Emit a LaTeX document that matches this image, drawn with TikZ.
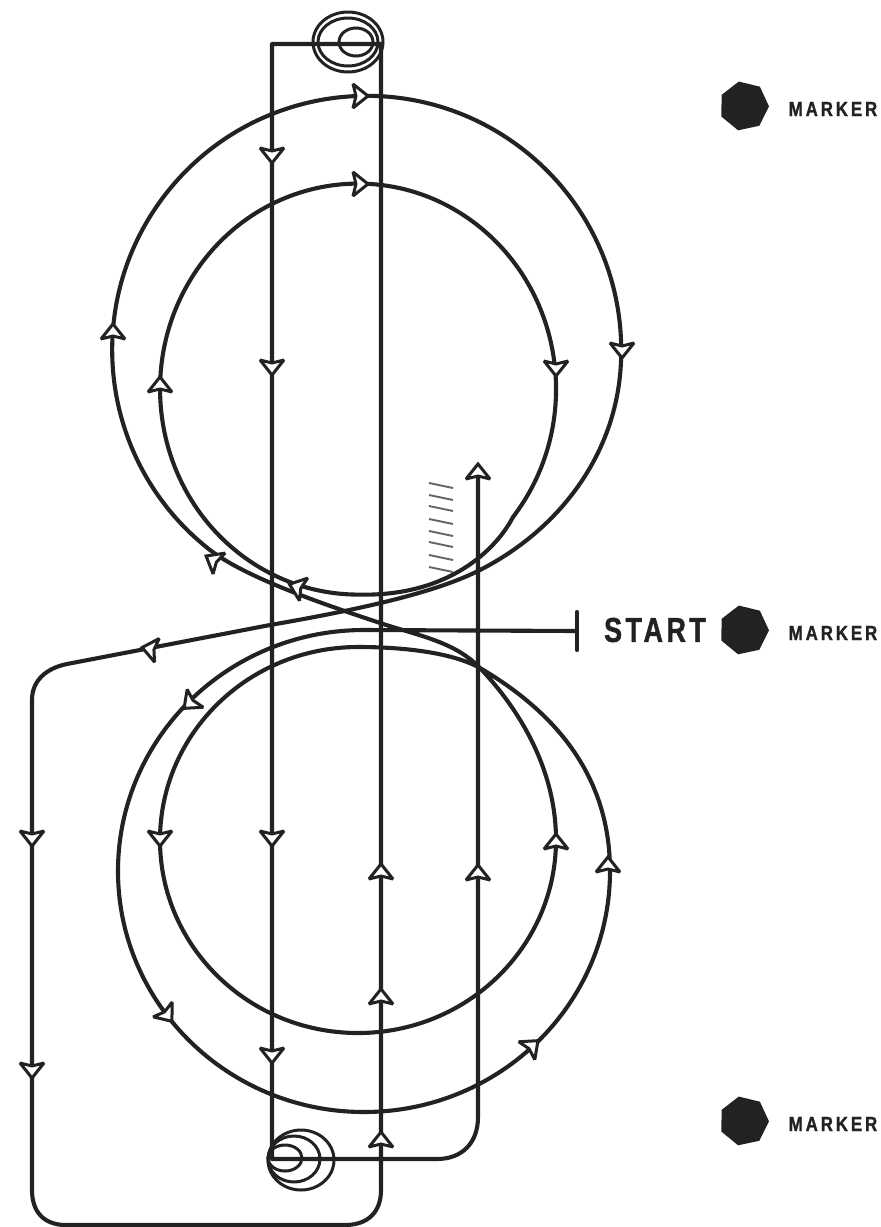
\documentclass[tikz,border=0pt]{standalone}
\usepackage{fontspec}
\usetikzlibrary{shapes.geometric}
\newfontfamily\startfont[LetterSpace=10,FakeStretch=0.78,FakeBold=1.2]{Liberation Sans Bold}
\newfontfamily\markfont[LetterSpace=14,FakeStretch=0.82,FakeBold=1.2]{Liberation Sans Bold}
\definecolor{ink}{HTML}{222222}
\tikzset{
  x=0.5pt,y=-0.5pt,
  track/.style={draw=ink,line width=2.05pt,line cap=round,line join=round},
  thin ring/.style={draw=ink,line width=1.5pt},
  hatchline/.style={draw=ink!70,line width=0.95pt},
  marker dot/.style={regular polygon,regular polygon sides=7,fill=ink,draw=none,minimum size=25pt,inner sep=0pt},
  startlabel/.style={text=ink,font=\startfont\fontsize{17.3}{19}\selectfont,inner sep=0pt},
  markerlabel/.style={text=ink,font=\markfont\fontsize{10.3}{12}\selectfont,inner sep=0pt},
  barb/.pic={\draw[draw=ink,fill=white,line width=1.5pt,line join=miter,miter limit=3] (8,0)--(-7,12)--(-4,0)--(-7,-12)--cycle;}
}
\begin{document}
\begin{tikzpicture}
\useasboundingbox (0,0) rectangle (880,1227);
% upper inner loop
\draw[track] (513,517) arc[start angle=38.5,end angle=-270,x radius=198,y radius=205.5]
  .. controls (450,597) and (497,548) .. (513,517);
% upper outer loop with tail
\draw[track] (210,550) arc[start angle=128,end angle=360,x radius=254.5,y radius=254]
  .. controls (622,450) and (560,530) .. (478,571)
  .. controls (430,595) and (345,612) .. (270,625)
  -- (67,664) .. controls (47,668) and (32,680) .. (32,700) -- (32,1190)
  .. controls (32,1212) and (44,1225) .. (66,1225) -- (345,1225)
  .. controls (368,1225) and (381,1212) .. (381,1190) -- (381,44) -- (272,44) -- (272,1159)
  -- (437,1159) .. controls (462,1159) and (478,1143) .. (478,1117) -- (478,470);
% lower outer loop, from the start bar
\coordinate (startbar) at (577,631);
\draw[track] (577,612) -- (577,650);
\draw[track] (startbar) -- (364,630) arc[start angle=-90,end angle=-360,x radius=246,y radius=241]
  .. controls (610,780) and (560,715) .. (480,668)
  .. controls (455,654) and (410,647) .. (358,647)
  arc[start angle=-90,end angle=-360,x radius=198,y radius=193]
  .. controls (556,770) and (520,710) .. (480,668)
  .. controls (455,642) and (420,636) .. (380,623)
  .. controls (345,611) and (250,581) .. (210,550);
% rings
\draw[thin ring] (348,42) ellipse[x radius=35,y radius=30];
\draw[thin ring] (348,42) ellipse[x radius=30,y radius=24];
\draw[thin ring] (356,42) ellipse[x radius=17,y radius=14];
\draw[thin ring] (301,1160) ellipse[x radius=33,y radius=30];
\draw[thin ring] (294,1159) ellipse[x radius=26,y radius=23];
\draw[thin ring] (285,1158) ellipse[x radius=17,y radius=13];
% hatching
\foreach \a/\b in {483/488,495/500,506/511,519/524,531/536,542/547,555/560,567/572}
  \draw[hatchline] (429,\a) -- (453,\b);
% arrowheads
\foreach \p/\d in {272/155,272/367,272/838,272/1055,32/838,32/1070,160/838}
  \pic[rotate=-90] at (\p,\d) {barb};
\foreach \p/\d in {381/872,381/997,381/1140,478/873,478/472,556/842,608/865,113/332,160/385}
  \pic[rotate=90] at (\p,\d) {barb};
\pic[rotate=0] at (360,96) {barb};
\pic[rotate=0] at (360,184) {barb};
\pic[rotate=-90] at (622,350) {barb};
\pic[rotate=-90] at (556,368) {barb};
\pic[rotate=150] at (213,560) {barb};
\pic[rotate=160] at (297,587) {barb};
\pic[rotate=169] at (150,649) {barb};
\pic[rotate=222] at (190,703) {barb};
\pic[rotate=-52] at (167,1015) {barb};
\pic[rotate=42] at (532,1046) {barb};
% markers and labels
\node[marker dot,rotate=12] (m1) at (744,106) {};
\node[marker dot,rotate=12] (m2) at (744,630) {};
\node[marker dot,rotate=12] (m3) at (744,1121) {};
\node[startlabel] (start) at (655,630) {START};
\node[markerlabel] (l1) at (833,109) {MARKER};
\node[markerlabel] (l2) at (833,633) {MARKER};
\node[markerlabel] (l3) at (833,1124) {MARKER};
\end{tikzpicture}
\end{document}
